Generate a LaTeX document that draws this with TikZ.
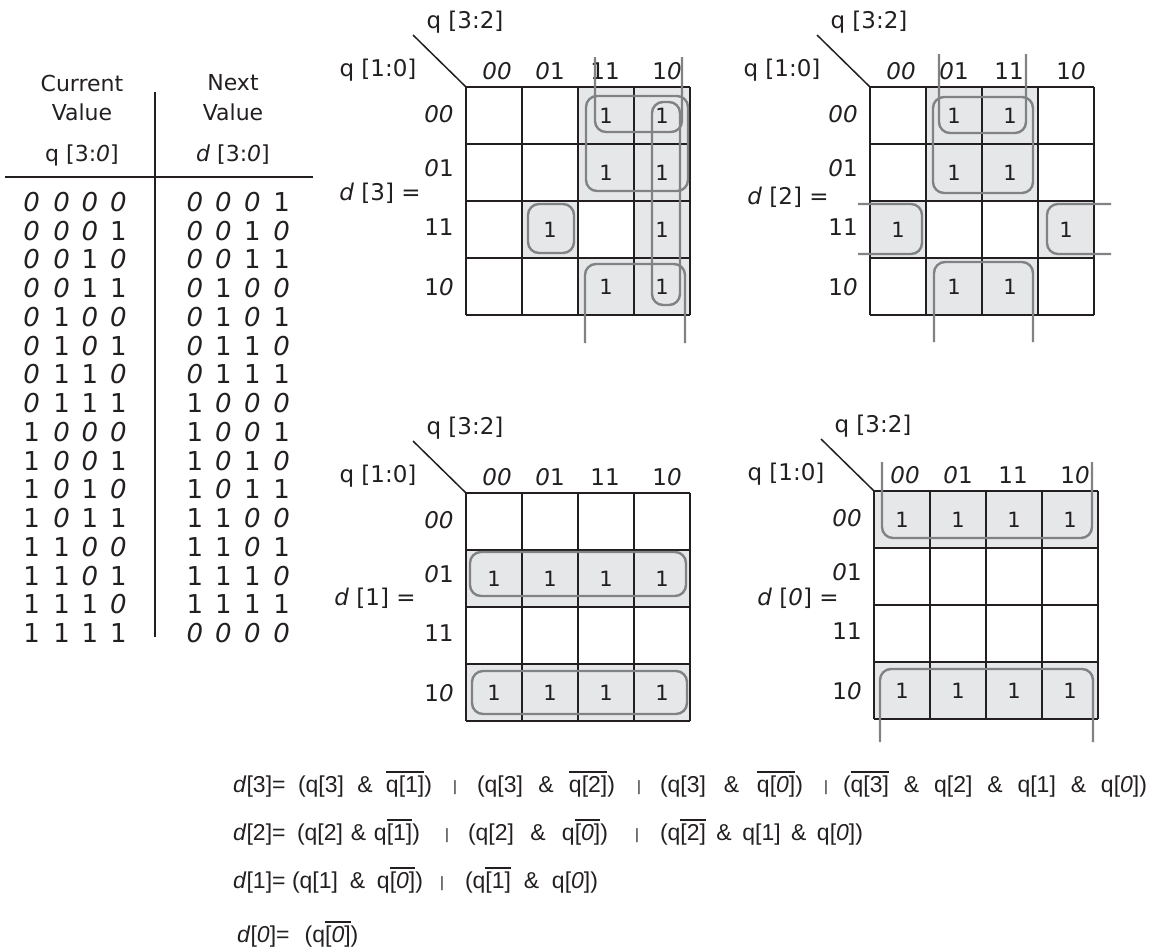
\documentclass[tikz,border=0pt]{standalone}
\usepackage{fontspec}
\setmainfont{DejaVu Sans}
\newfontfamily\eqfont{Liberation Sans}
\definecolor{shadegray}{HTML}{E6E7E8}
\definecolor{loopgray}{HTML}{808285}
\definecolor{ink}{HTML}{231F20}
\newcommand\zr{\textit{0}}
\newcommand\dg[1]{\ifnum#1=0 \textit{0}\else 1\fi}
\newcommand\olq[1]{\leavevmode\vbox{\hrule height 1.8pt\kern 2.2pt\hbox{#1}}}
\tikzset{
  lab/.style={font=\fontsize{23}{27}\selectfont, inner sep=0pt, text=ink},
  one/.style={font=\fontsize{21}{24}\selectfont, inner sep=0pt, text=ink},
  hdr/.style={font=\fontsize{22}{26}\selectfont, inner sep=0pt, text=ink},
  tdig/.style={font=\fontsize{26}{30}\selectfont, inner sep=0pt, text=ink},
  eq/.style={font=\eqfont\fontsize{23}{27}\selectfont, inner sep=0pt, anchor=base, text=ink},
  eqbar/.style={font=\eqfont\fontsize{15}{16}\selectfont, inner sep=0pt, anchor=base, text=ink},
  cellshade/.style={fill=shadegray},
  gridline/.style={draw=ink, line width=1.1pt},
  diagline/.style={draw=ink, line width=1.5pt},
  tabline/.style={draw=ink, line width=2pt},
  kloop/.style={draw=loopgray, line width=2.4pt, rounded corners=11pt},
}
% #1 prefix, #2 shift, #3 d label, #4 d label position, #5 cells with 1, #6 loops
\newcommand\kmap[6]{%
\begin{scope}[shift={#2}]
  \foreach \cc/\rr in {#5} \fill[cellshade] (56*\cc,57*\rr) rectangle ++(56,57);
  \foreach \k in {0,...,4} {
    \draw[gridline] (56*\k,0) -- (56*\k,228);
    \draw[gridline] (0,57*\k) -- (224,57*\k);
  }
  \draw[diagline] (-53,-52) -- (0,0);
  \node[lab] (#1-q32) at (-1,-65) {q [3:2]};
  \node[lab] (#1-q10) at (-88,-17) {q [1:0]};
  \node[lab] (#1-h0) at (31,-16) {\zr\zr};
  \node[lab] (#1-h1) at (84,-16) {\zr 1};
  \node[lab] (#1-h2) at (139,-16) {11};
  \node[lab] (#1-h3) at (201,-16) {1\zr};
  \node[lab] (#1-r0) at (-27,27) {\zr\zr};
  \node[lab] (#1-r1) at (-27,81) {\zr 1};
  \node[lab] (#1-r2) at (-27,140) {11};
  \node[lab] (#1-r3) at (-27,200) {1\zr};
  \node[lab] (#1-d) at #4 {#3};
  \foreach \cc/\rr in {#5} \node[one] (#1-o\cc\rr) at (56*\cc+28,57*\rr+29) {1};
  #6
\end{scope}}

\begin{document}
\begin{tikzpicture}[x=1pt,y=-1pt]
\useasboundingbox (0,0) rectangle (1149,948);

% ---------- truth table ----------
\draw[tabline] (5,177) -- (313,177);
\draw[tabline] (155,92) -- (155,637);
\node[hdr] (hc1) at (82,83) {Current};
\node[hdr] (hc2) at (82,112) {Value};
\node[hdr] (hc3) at (82,155) {q [3:\zr]};
\node[hdr] (hn1) at (233,83) {Next};
\node[hdr] (hn2) at (233,112) {Value};
\node[hdr] (hn3) at (233,155) {\textit{d} [3:\zr]};
\foreach \i/\ra/\rb/\rc/\rd/\sa/\sb/\sc/\sd in {
  0/0/0/0/0/0/0/0/1, 1/0/0/0/1/0/0/1/0, 2/0/0/1/0/0/0/1/1, 3/0/0/1/1/0/1/0/0,
  4/0/1/0/0/0/1/0/1, 5/0/1/0/1/0/1/1/0, 6/0/1/1/0/0/1/1/1, 7/0/1/1/1/1/0/0/0,
  8/1/0/0/0/1/0/0/1, 9/1/0/0/1/1/0/1/0, 10/1/0/1/0/1/0/1/1, 11/1/0/1/1/1/1/0/0,
  12/1/1/0/0/1/1/0/1, 13/1/1/0/1/1/1/1/0, 14/1/1/1/0/1/1/1/1, 15/1/1/1/1/0/0/0/0} {
  \node[tdig] (L\i-3) at (31.7,202+28.75*\i) {\dg{\ra}};
  \node[tdig] (L\i-2) at (61.7,202+28.75*\i) {\dg{\rb}};
  \node[tdig] (L\i-1) at (90,202+28.75*\i) {\dg{\rc}};
  \node[tdig] (L\i-0) at (118.3,202+28.75*\i) {\dg{\rd}};
  \node[tdig] (R\i-3) at (195,202+28.75*\i) {\dg{\sa}};
  \node[tdig] (R\i-2) at (223.3,202+28.75*\i) {\dg{\sb}};
  \node[tdig] (R\i-1) at (252.3,202+28.75*\i) {\dg{\sc}};
  \node[tdig] (R\i-0) at (281.7,202+28.75*\i) {\dg{\sd}};
}

% ---------- K-maps ----------
\kmap{m3}{(466,87)}{\textit{d} [3] =}{(-86,106)}
  {2/0,3/0,2/1,3/1,1/2,3/2,2/3,3/3}
  {\draw[kloop] (120,9) rectangle (222,104);
   \draw[kloop] (129,-30) -- (129,45) -- (216,45) -- (216,-30);
   \draw[kloop] (119,256) -- (119,177) -- (219,177) -- (219,256);
   \draw[kloop] (186,15) rectangle (214,218);
   \draw[kloop] (62,117) rectangle (108,166);}

\kmap{m2}{(870,87)}{\textit{d} [2] =}{(-82,110)}
  {1/0,2/0,1/1,2/1,0/2,3/2,1/3,2/3}
  {\draw[kloop] (63,10) rectangle (163,106);
   \draw[kloop] (69,-33) -- (69,46) -- (156,46) -- (156,-33);
   \draw[kloop] (64,255) -- (64,175) -- (163,175) -- (163,255);
   \draw[kloop] (-12,117) -- (52,117) -- (52,167) -- (-12,167);
   \draw[kloop] (241,117) -- (177,117) -- (177,167) -- (241,167);}

\kmap{m1}{(466,493)}{\textit{d} [1] =}{(-91,105)}
  {0/1,1/1,2/1,3/1,0/3,1/3,2/3,3/3}
  {\draw[kloop] (4,59) rectangle (220,103);
   \draw[kloop] (6,178) rectangle (221,221);}

\kmap{m0}{(874,491)}{\textit{d} [\zr] =}{(-76,107)}
  {0/0,1/0,2/0,3/0,0/3,1/3,2/3,3/3}
  {\draw[kloop] (8,-29) -- (8,47) -- (218,47) -- (218,-29);
   \draw[kloop] (6,251) -- (6,178) -- (219,178) -- (219,251);}

% ---------- equations ----------
\node[eq, anchor=base west] (e1d) at (233,792) {\textit{d}[3]=};
\node[eq] (e1t1) at (365,792) {\makebox[134pt][s]{(q[3] \& \olq{q[1]})}};
\node[eqbar] (e1b1) at (455,791) {|};
\node[eq] (e1t2) at (546,792) {\makebox[138pt][s]{(q[3] \& \olq{q[2]})}};
\node[eqbar] (e1b2) at (639,791) {|};
\node[eq] (e1t3) at (731.5,792) {\makebox[143pt][s]{(q[3] \& \olq{q[\zr]})}};
\node[eqbar] (e1b3) at (826,791) {|};
\node[eq] (e1t4) at (995,792) {\makebox[304pt][s]{(\olq{q[3]} \& q[2] \& q[1] \& q[\zr])}};

\node[eq, anchor=base west] (e2d) at (233,840) {\textit{d}[2]=};
\node[eq] (e2t1) at (358.5,840) {\makebox[123pt][s]{(q[2] \& q\olq{[1]})}};
\node[eqbar] (e2b1) at (447,839) {|};
\node[eq] (e2t2) at (538,840) {\makebox[140pt][s]{(q[2] \& q\olq{[\zr]})}};
\node[eqbar] (e2b2) at (637,839) {|};
\node[eq] (e2t3) at (761.5,840) {\makebox[203pt][s]{(q\olq{[2]} \& q[1] \& q[\zr])}};

\node[eq, anchor=base west] (e3d) at (233,888) {\textit{d}[1]=};
\node[eq] (e3t1) at (357.5,888) {\makebox[131pt][s]{(q[1] \& q\olq{[\zr]})}};
\node[eqbar] (e3b1) at (442,887) {|};
\node[eq] (e3t2) at (531.5,888) {\makebox[133pt][s]{(q\olq{[1]} \& q[\zr])}};

\node[eq, anchor=base west] (e4d) at (237,942) {\textit{d}[\zr]=};
\node[eq] (e4t1) at (331.5,942) {(q\olq{[\zr]})};
\end{tikzpicture}
\end{document}
